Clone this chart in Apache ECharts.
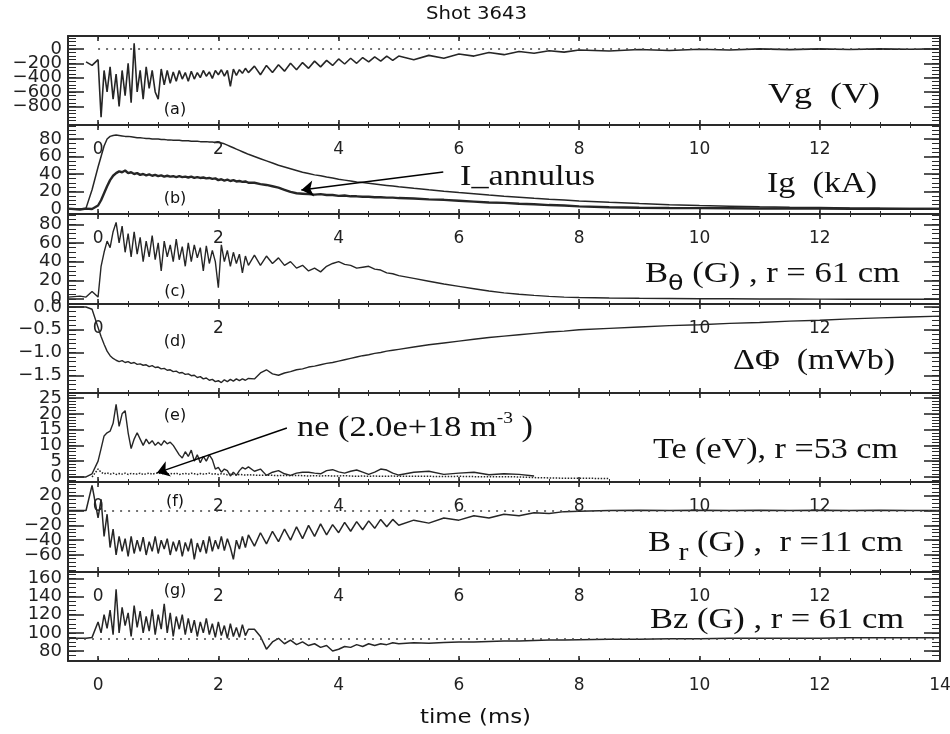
<!DOCTYPE html>
<html><head><meta charset="utf-8">
<script src="https://cdn.jsdelivr.net/npm/echarts@6/dist/echarts.min.js"></script>
<style>html,body{margin:0;padding:0;background:#fff}#c{width:950px;height:734px}</style>
</head><body><div id="c"></div>
<script>
// ---- time base (ms) ----
const T = [-0.5,-0.3,-0.2,-0.1,
 0,0.05,0.1,0.15,0.2,0.25,0.3,0.35,0.4,0.45,
 0.5,0.55,0.6,0.65,0.7,0.75,0.8,0.85,0.9,0.95,
 1,1.05,1.1,1.15,1.2,1.25,1.3,1.35,1.4,1.45,
 1.5,1.55,1.6,1.65,1.7,1.75,1.8,1.85,1.9,1.95,
 2,2.05,2.1,2.15,2.2,2.25,2.3,2.35,2.4,2.45,
 2.5,
 2.6,2.7,2.8,2.9,3,3.1,3.2,3.3,3.4,3.5,3.6,3.7,3.8,3.9,4,4.1,4.2,4.3,4.4,4.5,4.6,4.7,4.8,4.9,5,
 5.25,5.5,5.75,6,6.25,6.5,6.75,7,7.25,7.5,7.75,8,
 8.5,9,9.5,10,10.5,11,11.5,12,12.5,13,13.5,14];

// (a) Vg (V)
const Vg = [null,null,-180,-230,
 -150,-950,-300,-600,-250,-700,-350,-800,-300,-650,
 -200,-750,80,-600,-300,-700,-250,-550,-300,-600,
 -700,-280,-500,-300,-480,-320,-450,-300,-420,-330,
 -450,-310,-420,-330,-400,-300,-380,-320,-410,-300,
 -360,-290,-380,-300,-520,-280,-370,-290,-340,-270,
 -330,
 -240,-360,-230,-330,-220,-310,-200,-290,-190,-270,-170,-250,-160,-230,-140,-210,-130,-200,-120,-180,-110,-170,-100,-160,-100,
 -150,-90,-130,-70,-100,-50,-80,-35,-60,-25,-45,-15,
 -30,-8,-22,-5,-15,0,-10,0,-8,0,-5,0];

// (b) Ig (kA)
const Ig = [0,0,1,22,
 48,60,72,80,83,84,84.5,84,83.5,83,
 83,82.5,82,81.5,81.5,81,80.5,80.5,80,80,
 80,79.5,79.5,79,79,78.5,78.5,78.5,78,78,
 78,77.5,77.5,77.5,77,77,77,76.5,76.5,76,
 76,75.5,74.5,73,71.5,70,68.5,67,65.5,64,
 62.5,
 60,57.5,55,52.5,50,48,46,44,42,40.5,39,38,36.5,35.5,34,33,32,31,30.2,29.4,28.6,27.8,27,26.2,25.4,
 23.6,21.9,20.3,18.8,17.4,16,14.7,13.5,12.3,11.2,10.2,9.2,
 7.6,6.2,5,4,3.2,2.5,2,1.6,1.2,0.9,0.7,0.5];

// (b) I_annulus (kA)
const Iann = [0.5,-0.5,0.5,0,
 4,10,18,26,33,38,41,43,42,44,
 41,42,40,41,39,40,38.5,39.5,38,39,
 37.5,38.5,37,38,37,37.5,36.5,37.5,36.5,37,
 36,37,35.5,36.5,35.5,36,35,35.5,34.5,35,
 33,34,32.5,33.5,32,33,31.5,32,31,31.5,
 30,
 30,28.5,27.5,26,24.5,22,19.5,18,17.5,17,16.5,17,16,16,15,15.5,14.5,14.5,14,14,13.5,13.5,13,13,12.5,
 12,11,10.5,9.5,8.5,7.5,7,6,5.5,4.5,4,3,
 2,1.5,1.2,1,0.8,0.6,0.5,0.4,0.3,0.3,0.2,0.2];

// (c) B_theta (G), r = 61 cm
const Bth = [2,3,2,8,
 2,35,50,62,55,72,82,60,78,50,
 70,45,72,48,66,40,62,45,68,42,
 60,30,62,45,58,40,64,42,56,35,
 60,40,58,44,55,30,57,38,52,40,
 12,58,40,52,35,50,38,48,28,46,
 36,
 47,36,46,38,44,36,40,33,36,30,33,29,35,38,40,37,36,33,34,35,32,31,28,27,25,
 22,19,16,13.5,11,8.5,6.5,5,3.8,2.8,2,1.5,
 1,0.7,0.5,0.3,0.2,0,0,-0.2,-0.3,-0.3,-0.3,-0.3];

// (d) Delta Phi (mWb)
const dPhi = [0,0,0,-0.05,
 -0.45,-0.65,-0.82,-0.97,-1.07,-1.13,-1.17,-1.2,-1.18,-1.22,
 -1.2,-1.24,-1.22,-1.26,-1.25,-1.28,-1.27,-1.31,-1.29,-1.33,
 -1.32,-1.36,-1.35,-1.39,-1.38,-1.42,-1.41,-1.45,-1.44,-1.48,
 -1.47,-1.51,-1.5,-1.55,-1.53,-1.58,-1.56,-1.61,-1.59,-1.64,
 -1.62,-1.66,-1.6,-1.64,-1.59,-1.63,-1.58,-1.62,-1.58,-1.61,
 -1.57,
 -1.58,-1.45,-1.38,-1.47,-1.5,-1.45,-1.42,-1.38,-1.36,-1.32,-1.3,-1.27,-1.24,-1.22,-1.19,-1.16,-1.13,-1.1,-1.07,-1.05,-1.02,-1,-0.97,-0.95,-0.93,
 -0.88,-0.83,-0.79,-0.75,-0.71,-0.67,-0.64,-0.61,-0.58,-0.55,-0.53,-0.5,
 -0.47,-0.44,-0.41,-0.39,-0.36,-0.34,-0.31,-0.29,-0.26,-0.24,-0.22,-0.2];

// (e) Te (eV), r = 53 cm
const Te = [0,0,0,1,
 5,9,13,14,14.5,17,23,16,20,21,
 14,9,12,14,12,10,12,10.5,11.5,10,
 11,10,11.5,10.5,11,10,8.5,7,6,8,
 6.5,8.5,5,7,4.5,6.5,5,7,5.5,2.5,
 3,1.5,2.5,2,0.3,1.5,0.5,2,3,2.5,
 3.2,
 1.8,2.5,0.5,1.5,2,1,0.5,1.2,1.5,1.5,1.2,1,2,2.3,1.6,1.2,1.8,2.2,1.5,0.8,1.5,2.5,2.2,1.2,0.6,
 1.5,1.8,0.8,1.2,1.5,0.7,1,0.8,0.3,null,null,null,
 null,null,null,null,null,null,null,null,null,null,null,null];

// (e) ne (units of 2.0e+18 m^-3)
const ne = [null,null,null,0,
 2.5,1.5,1,1.3,0.9,1.2,0.8,1.1,0.9,1.2,
 0.8,1.1,1,0.9,1.2,0.8,1,1.2,0.9,1.1,
 1.3,1,1.2,0.9,1.1,1,1.2,0.8,1,1.1,
 0.9,1.2,1,0.8,1.1,0.9,1,1.2,0.9,1,
 0.8,1,0.9,0.7,0.9,0.8,0.6,0.8,0.7,0.6,
 0.7,
 0.6,0.5,0.6,0.5,0.4,0.5,0.4,0.5,0.4,0.3,0.4,0.3,0.4,0.3,0.3,0.4,0.3,0.2,0.3,0.2,0.3,0.2,0.2,0.3,0.2,
 0.2,0.2,0.1,0.2,0.1,0.1,0.1,0,-0.2,-0.3,-0.4,-0.4,
 -0.5,null,null,null,null,null,null,null,null,null,null,null];

// (f) B_r (G), r = 11 cm
const Br = [0,0,0,34,
 -10,15,-35,-5,-50,-25,-60,-35,-55,-38,
 -62,-35,-58,-40,-55,-36,-60,-42,-55,-35,
 -58,-40,-52,-38,-60,-42,-55,-40,-62,-43,
 -55,-38,-66,-44,-56,-40,-58,-35,-55,-40,
 -52,-35,-54,-38,-50,-66,-40,-52,-35,-50,
 -33,
 -48,-30,-45,-28,-42,-25,-40,-22,-38,-20,-35,-18,-33,-19,-30,-16,-28,-15,-26,-14,-24,-12,-22,-12,-20,
 -13,-17,-10,-13,-7,-10,-5,-7,-3,-4,-1.5,-1,
 0,0.5,0,0.5,0,0.5,0,0.5,0,0.5,0,0];

// (g) Bz (G), r = 61 cm
const Bz = [94,94,94,95,
 112,100,120,105,125,98,148,100,128,108,
 122,96,130,106,124,100,118,102,126,98,
 120,104,132,100,122,96,118,104,120,98,
 116,100,114,96,112,100,116,98,110,95,
 112,97,108,94,110,96,106,95,109,97,
 104,
 104,96,82,90,94,88,92,87,90,86,88,84,86,80,82,85,84,87,85,88,86,88,87,89,88,
 89,88.5,89.5,90,90,90.5,91,91,91.5,92,92,92.5,
 93,93,93.5,93.5,94,94,94,94,94.5,94.5,94.5,94.5];

// reference lines & annotation arrows (data coordinates)
const zeroA = [[0,0],[14,0]];
const zeroF = [[0.1,0],[14,0]];
const baseG = [[-0.5,93],[14,93]];
const annArrow = [[5.74,42.3],[3.38,21.7]];
const neArrow = [[3.14,15.5],[0.98,1.3]];

// tick labels
const xMajor = [0,2,4,6,8,10,12,14];
const xLab = [[0,2,4,6,8,10,12],[0,2,4,6,8,10,12],[0,2,10,12],null,[0,2,4,6,8,10,12],[0,2,4,6,8,10,12],[0,2,4,6,8,10,12,14]];
const yMajorA = [0,-200,-400,-600,-800];
const yMajorB = [0,20,40,60,80];
const yMajorC = [0,20,40,60,80];
const yMajorD = [0,-0.5,-1,-1.5];
const yMajorE = [0,5,10,15,20,25];
const yMajorF = [20,0,-20,-40,-60];
const yMajorG = [80,100,120,140,160];

(function(){
const panels = [
 {min:-1060, max:180, major:yMajorA, step:50, dec:0},
 {min:-5.7, max:96, major:yMajorB, step:5, dec:0},
 {min:-5.4, max:91, major:yMajorC, step:5, dec:0},
 {min:-1.89, max:0.066, major:yMajorD, step:0.1, dec:1},
 {min:-1.6, max:26.6, major:yMajorE, step:1, dec:0},
 {min:-83, max:38.5, major:yMajorF, step:5, dec:0},
 {min:69, max:167, major:yMajorG, step:5, dec:0}
];
const tops = [36,125,214,304,393,482,572];
const heights = [89,89,90,89,89,90,89];
const GRID_W = 950 - 68 - 10;
const XMIN = -0.5, XMAX = 14;
const AXC = '#2a2a2a';
const LINEC = '#262626';
const FONT_AX = 'DejaVu Sans';

const xMinor = [];
for (let v = -0.5; v <= 14.0001; v += 0.5) xMinor.push(+v.toFixed(2));
function minorTicks(P){
  const out=[]; const s=P.step;
  for (let k=Math.ceil(P.min/s); k*s<=P.max+1e-9; k++) out.push(+(k*s).toFixed(3));
  return out;
}

const grids=[], xAxes=[], yAxes=[], seriesList=[];
const NX = 2, NY = 3;
panels.forEach((P,i)=>{
  grids.push({left:68, right:10, top:tops[i], height:heights[i], containLabel:false, outerBoundsMode:'none'});
  const aLine = {show:true, onZero:false, lineStyle:{color:AXC, width:2}};
  const noLine = {show:false, onZero:false};
  const cx = {type:'value', gridIndex:i, min:XMIN, max:XMAX, splitLine:{show:false}, axisTick:{show:false}, axisLabel:{show:false}};
  const xl = xLab[i] ? {show:true, customValues:xLab[i], hideOverlap:false, showMinLabel:true, showMaxLabel:true,
      margin:16, color:'#222', fontSize:17, fontFamily:FONT_AX} : {show:false};
  xAxes.push(Object.assign({}, cx, {position:'bottom', axisLine:aLine, axisLabel:xl}));
  xAxes.push(Object.assign({}, cx, {position:'top', axisLine:aLine}));
  const cy = {type:'value', gridIndex:i, min:P.min, max:P.max, splitLine:{show:false}, axisTick:{show:false}, axisLabel:{show:false}};
  const fmt = v => (P.dec ? v.toFixed(P.dec) : String(Math.round(v))).replace('-', '\u2212');
  const labA = P.major.filter((v,k)=>k%2===0), labB = P.major.filter((v,k)=>k%2===1);
  const lab = vals => ({show:true, customValues:vals, formatter:fmt, hideOverlap:false, showMinLabel:true, showMaxLabel:true,
    margin:6, color:'#222', fontSize:18, fontFamily:FONT_AX});
  yAxes.push(Object.assign({}, cy, {position:'left', axisLine:aLine, axisLabel:lab(labA)}));
  yAxes.push(Object.assign({}, cy, {position:'left', axisLine:noLine, axisLabel:lab(labB)}));
  yAxes.push(Object.assign({}, cy, {position:'right', axisLine:aLine}));

  // tick marks as mark lines in data coordinates (lengths converted from pixels)
  const ux = (XMAX - XMIN) / GRID_W, uy = (P.max - P.min) / heights[i];
  const d = [];
  const seg = (a, b, w) => d.push([{coord:a, lineStyle:{width:w, color:AXC, type:'solid'}}, {coord:b}]);
  xMajor.forEach(v=>{ seg([v, P.min], [v, P.min + 5*uy], 1.6); seg([v, P.max], [v, P.max - 5*uy], 1.6); });
  xMinor.forEach(v=>{ seg([v, P.min], [v, P.min + 3*uy], 1); seg([v, P.max], [v, P.max - 3*uy], 1); });
  P.major.forEach(v=>{ seg([XMIN, v], [XMIN + 16*ux, v], 1.6); seg([XMAX, v], [XMAX - 16*ux, v], 1.6); });
  minorTicks(P).forEach(v=>{ seg([XMIN, v], [XMIN + 8*ux, v], 1); seg([XMAX, v], [XMAX - 8*ux, v], 1); });
  seriesList.push({type:'line', xAxisIndex:NX*i, yAxisIndex:NY*i, data:[[XMIN, P.min]], showSymbol:false, symbol:'none',
    lineStyle:{opacity:0}, silent:true, animation:false, clip:false, z:4,
    markLine:{silent:true, animation:false, symbol:['none','none'], label:{show:false}, emphasis:{disabled:true},
      lineStyle:{color:AXC, width:1, type:'solid'}, data:d}});
});

function mkLine(gi, arr, style, extra){
  return Object.assign({type:'line', xAxisIndex:NX*gi, yAxisIndex:NY*gi,
    data:T.map((t,k)=>[t, arr[k]]), showSymbol:false, symbol:'none', silent:true, animation:false,
    lineStyle:Object.assign({color:LINEC, width:1.4}, style||{}), z:3}, extra||{});
}
function dottedML(seg){
  return {silent:true, animation:false, symbol:['none','none'], label:{show:false},
    lineStyle:{type:[2,6], color:'#444', width:1.5},
    data:[[{coord:seg[0]},{coord:seg[1]}]]};
}
function arrowML(seg){
  return {silent:true, animation:false, symbol:['none','arrow'], symbolSize:12, label:{show:false},
    lineStyle:{type:'solid', color:'#000', width:1.5},
    data:[[{coord:seg[0]},{coord:seg[1]}]]};
}

seriesList.push(
  mkLine(0, Vg, {width:1.6}, {markLine:dottedML(zeroA)}),
  mkLine(1, Ig, {width:1.5}),
  mkLine(1, Iann, {width:2.4}, {markLine:arrowML(annArrow)}),
  mkLine(2, Bth),
  mkLine(3, dPhi, {width:1.4}),
  mkLine(4, Te),
  mkLine(4, ne, {type:'dotted', width:1.5}, {markLine:arrowML(neArrow)}),
  mkLine(5, Br, {width:1.5}, {markLine:dottedML(zeroF)}),
  mkLine(6, Bz, {width:1.5}, {markLine:dottedML(baseG)})
);

// ---- text ----
const elems = [];
const measureCanvas = document.createElement('canvas').getContext('2d');
const SERIF = '"Liberation Serif"', SANS = '"DejaVu Sans"';
function addFitted(spec){
  const parts = spec.p.map(pc=>{
    const size = pc.s || spec.s || 30, fam = pc.f || spec.f || SERIF;
    const font = size + 'px ' + fam;
    measureCanvas.font = font;
    return {t:pc.t, font:font, w:measureCanvas.measureText(pc.t).width, dy:pc.dy||0};
  });
  const total = parts.reduce((a,b)=>a+b.w, 0);
  const sx = (spec.r - spec.l) / total;
  let cum = 0;
  parts.forEach(pt=>{
    elems.push({type:'text', x:spec.l + cum*sx, y:spec.y + pt.dy, scaleX:sx,
      style:{text:pt.t, font:pt.font, fill:'#111', textAlign:'left', textVerticalAlign:'middle', align:'left', verticalAlign:'middle'}});
    cum += pt.w;
  });
}
const labelSpecs = [
  {l:768, r:880, y:95, p:[{t:'Vg  (V)'}]},
  {l:767, r:877, y:184, p:[{t:'Ig  (kA)'}]},
  {l:645, r:900, y:274, p:[{t:'B'},{t:'\u03B8', s:22, f:SANS, dy:10},{t:' (G) , r = 61 cm'}]},
  {l:733, r:895, y:361, p:[{t:'\u0394\u03A6  (mWb)'}]},
  {l:653, r:898, y:450, p:[{t:'Te (eV), r =53 cm'}]},
  {l:648, r:903, y:543, p:[{t:'B'},{t:' r', s:26, dy:10},{t:' (G) ,  r =11 cm'}]},
  {l:650, r:904, y:620, p:[{t:'Bz (G) , r = 61 cm'}]},
  {l:460, r:595, y:177, p:[{t:'I_annulus'}]},
  {l:297, r:533, y:428, p:[{t:'ne (2.0e+18 m'},{t:'-3', s:17, dy:-9},{t:' )'}]},
  {l:426, r:527, y:14, s:18, f:SANS, p:[{t:'Shot 3643'}]},
  {l:420, r:531, y:718, s:19, f:SANS, p:[{t:'time (ms)'}]}
];
labelSpecs.forEach(addFitted);
const letters = ['(a)','(b)','(c)','(d)','(e)','(f)','(g)'];
const letterY = [110,199,292,342,416,502,591];
letters.forEach((s,i)=>elems.push({type:'text', x:175, y:letterY[i],
  style:{text:s, font:'16px '+SANS, fill:'#111', textAlign:'center', textVerticalAlign:'middle', align:'center', verticalAlign:'middle'}}));

const chart = echarts.init(document.getElementById('c'), null, {renderer:'canvas', width:950, height:734});
chart.setOption({
  backgroundColor:'#fff',
  animation:false,
  grid:grids, xAxis:xAxes, yAxis:yAxes, series:seriesList,
  graphic:{elements:elems}
});
})();
</script>
</body></html>
